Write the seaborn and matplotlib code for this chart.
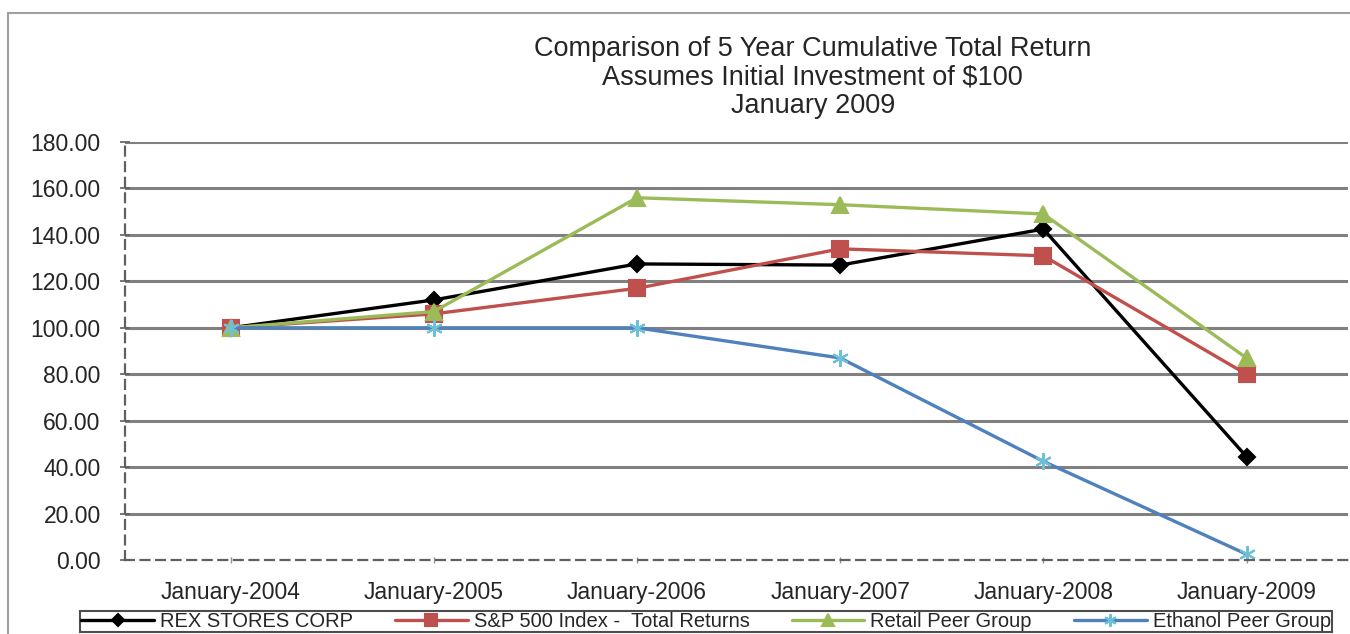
import matplotlib
matplotlib.use("Agg")
import matplotlib.pyplot as plt
import seaborn as sns
import pandas as pd
from matplotlib.patches import Rectangle

categories = ["January-2004", "January-2005", "January-2006",
              "January-2007", "January-2008", "January-2009"]
rex = [100.0, 112.0, 127.5, 127.0, 142.5, 44.5]
sp500 = [100.0, 106.0, 117.0, 134.0, 131.0, 80.0]
retail = [100.0, 107.0, 156.0, 153.0, 149.0, 87.0]
ethanol = [100.0, 100.0, 100.0, 87.0, 42.5, 2.5]
series_names = ["REX STORES CORP", "S&P 500 Index -  Total Returns",
                "Retail Peer Group", "Ethanol Peer Group"]
title_lines = ["Comparison of 5 Year Cumulative Total Return",
               "Assumes Initial Investment of $100",
               "January 2009"]
yticks = [0, 20, 40, 60, 80, 100, 120, 140, 160, 180]

sns.set_theme(style="white")
plt.rcParams['font.family'] = ['Liberation Sans', 'DejaVu Sans']

rows = []
for name, vals in zip(series_names, [rex, sp500, retail, ethanol]):
    for c, v in zip(categories, vals):
        rows.append({"Date": c, "Value": v, "Series": name})
df = pd.DataFrame(rows)

fig = plt.figure(figsize=(13.5, 6.34), dpi=100)
ax = fig.add_axes([0.0926, 0.1167, 0.906, 0.6593])

styles = {
    series_names[0]: dict(color="#000000", marker="D", ms=8, mfc="#000000", mec="#000000"),
    series_names[1]: dict(color="#C0504D", marker="s", ms=11, mfc="#C0504D", mec="#C0504D"),
    series_names[2]: dict(color="#9BBB59", marker="^", ms=11, mfc="#9BBB59", mec="#9BBB59"),
    series_names[3]: dict(color="#4F81BD", marker=(6, 2, 0), ms=12, mfc="#6CC0D8", mec="#6CC0D8"),
}

handles = []
for name in series_names:
    st = styles[name]
    sub = df[df["Series"] == name]
    sns.lineplot(data=sub, x="Date", y="Value", ax=ax, color=st["color"],
                 lw=2.4, marker=st["marker"], markersize=st["ms"],
                 markerfacecolor=st["mfc"], markeredgecolor=st["mec"],
                 markeredgewidth=1.5, sort=False, label=name, legend=False)
    handles.append(ax.lines[-1])

ax.set_xlim(-0.52, 5.5)
ax.set_ylim(0, 180)
ax.set_yticks(yticks)
ax.set_yticklabels([f"{v:.2f}" for v in yticks])
ax.set_xlabel("")
ax.set_ylabel("")

ax.yaxis.grid(True, color="#808080", lw=2.2)
ax.set_axisbelow(True)
for sp in ["top", "right"]:
    ax.spines[sp].set_visible(False)
for sp in ["left", "bottom"]:
    ax.spines[sp].set_color("#606060")
    ax.spines[sp].set_linestyle((0, (4, 3)))
    ax.spines[sp].set_linewidth(1.6)

ax.tick_params(axis="y", direction="inout", length=7, width=1.2, color="#606060",
               labelsize=16.5, pad=14, left=True)
ax.tick_params(axis="x", direction="inout", length=4, width=1, color="#909090",
               labelsize=16.5, pad=13, bottom=True)
for lab in ax.get_yticklabels() + ax.get_xticklabels():
    lab.set_color("#252525")

fig.canvas.draw()
gl = ax.yaxis.get_gridlines()
if len(gl):
    gl[0].set_visible(False)

fig.text(0.602, 0.944, "\n".join(title_lines), ha="center", va="top",
         fontsize=19.5, linespacing=1.13, color="#252525")

leg = fig.legend(handles, series_names, loc="upper center", ncol=4,
                 bbox_to_anchor=(0.523, 0.036), frameon=True, fontsize=14.5,
                 handlelength=3.6, handletextpad=0.3, columnspacing=2.1,
                 borderpad=0.05, borderaxespad=0.0, fancybox=False, markerscale=0.75)
leg.get_frame().set_edgecolor("#202020")
leg.get_frame().set_linewidth(1.5)

fig.patches.append(Rectangle((0.006, -0.1), 1.2, 1.08, transform=fig.transFigure,
                             fill=False, edgecolor="#a0a0a0", lw=1.5))

fig.savefig("out.png", dpi=100)
